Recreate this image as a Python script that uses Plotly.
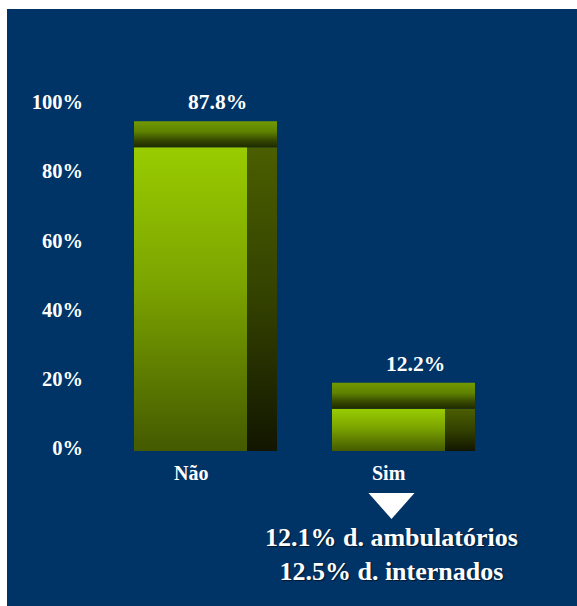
import plotly.graph_objects as go

# ---- data -------------------------------------------------------------
categories = ["Não", "Sim"]
values = [87.8, 12.2]
value_labels = ["87.8%", "12.2%"]
tick_values = [0, 20, 40, 60, 80, 100]
tick_labels = ["0%", "20%", "40%", "60%", "80%", "100%"]
breakdown = ["12.1% d. ambulatórios", "12.5% d. internados"]

# ---- geometry (x axis runs in pixel units, y axis in percent) ---------
W, H = 577, 606
PX_PER_UNIT = 3.46          # pixels per percentage point
ZERO_PX = 451               # pixel row of the 0 % baseline
y_lo = -(H - ZERO_PX) / PX_PER_UNIT
y_hi = ZERO_PX / PX_PER_UNIT

bar_left = [134, 332]
FRONT_W = 113
SIDE_W = 30
CAP_H = 26 / PX_PER_UNIT

NAVY = "#003366"
FONT = "Liberation Serif"

front_scale = [[0, "#445A00"], [0.55, "#7CA400"], [1, "#99CC00"]]
side_scale = [[0, "#121600"], [0.5, "#334100"], [1, "#4B5E00"]]
cap_scale = [[0, "#1E2A00"], [0.25, "#344600"], [0.6, "#5E8200"], [1, "#729A00"]]


def face(x0, x1, y0, y1, scale):
    return go.Scatter(
        x=[x0, x1, x1, x0, x0],
        y=[y0, y0, y1, y1, y0],
        mode="lines",
        fill="toself",
        line=dict(width=0),
        fillgradient=dict(type="vertical", colorscale=scale),
        hoverinfo="skip",
        showlegend=False,
    )


fig = go.Figure()
annotations = []
for cat, v, lab, left in zip(categories, values, value_labels, bar_left):
    fig.add_trace(face(left, left + FRONT_W, 0, v, front_scale))
    fig.add_trace(face(left + FRONT_W, left + FRONT_W + SIDE_W, 0, v, side_scale))
    fig.add_trace(face(left, left + FRONT_W + SIDE_W, v, v + CAP_H, cap_scale))
    annotations.append(dict(
        x=left + 83, y=v + CAP_H, xref="x", yref="y",
        text=lab, showarrow=False, yanchor="middle", yshift=19,
        font=dict(family=FONT, size=21.5, color="white", weight="bold"),
    ))
    annotations.append(dict(
        x=left + FRONT_W / 2, y=0, xref="x", yref="y",
        text=cat, showarrow=False, yanchor="middle", yshift=-22,
        font=dict(family=FONT, size=20, color="white", weight="bold"),
    ))

# pointer under "Sim" and its breakdown text
cx = bar_left[1] + FRONT_W / 2 + 3
tri_top = -(493 - ZERO_PX) / PX_PER_UNIT
tri_tip = -(519 - ZERO_PX) / PX_PER_UNIT
fig.add_trace(go.Scatter(
    x=[cx - 23, cx + 23, cx, cx - 23],
    y=[tri_top, tri_top, tri_tip, tri_top],
    mode="lines", fill="toself", fillcolor="white",
    line=dict(width=0), hoverinfo="skip", showlegend=False,
))
annotations.append(dict(
    x=cx, y=-(554.5 - ZERO_PX) / PX_PER_UNIT, xref="x", yref="y",
    text="<br>".join(breakdown), showarrow=False,
    yanchor="middle", align="center",
    font=dict(family=FONT, size=26, color="white", weight="bold",
              shadow="1px 1px 1px rgba(0,0,0,0.55)"),
))

fig.update_layout(
    width=W, height=H,
    margin=dict(l=0, r=0, t=0, b=0),
    paper_bgcolor="white",
    plot_bgcolor="rgba(0,0,0,0)",
    showlegend=False,
    shapes=[dict(
        type="rect", xref="paper", yref="paper",
        x0=7 / W, x1=1, y0=0, y1=1 - 9 / H,
        fillcolor=NAVY, line=dict(width=0), layer="below",
    )],
    annotations=annotations,
    xaxis=dict(range=[0, W], visible=False, fixedrange=True),
    yaxis=dict(
        range=[y_lo, y_hi],
        anchor="free", position=83 / W,
        tickmode="array", tickvals=tick_values, ticktext=tick_labels,
        ticklabelshift=-3,
        showgrid=False, zeroline=False, showline=False, ticks="",
        tickfont=dict(family=FONT, size=20.5, color="white", weight="bold"),
        fixedrange=True,
    ),
)

fig.write_html("out.html")
